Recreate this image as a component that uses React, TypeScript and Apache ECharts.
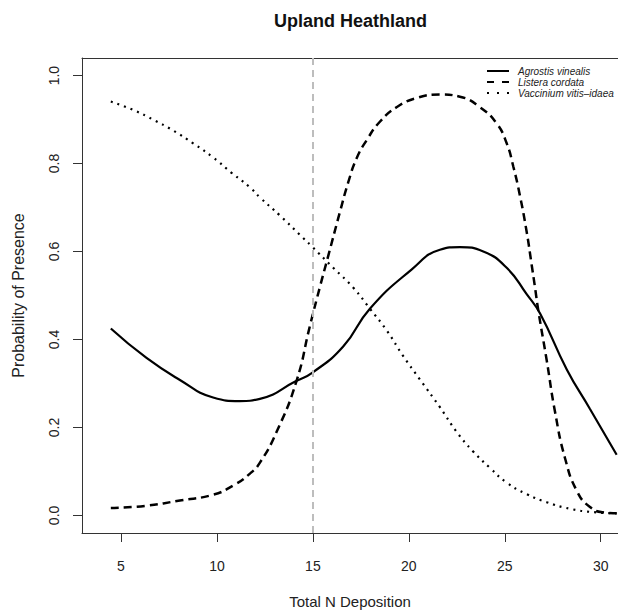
import React, { useEffect, useRef } from "react";
import * as echarts from "echarts";

const TITLE = "Upland Heathland";
const X_NAME = "Total N Deposition";
const Y_NAME = "Probability of Presence";
const X_TICKS = [5, 10, 15, 20, 25, 30];
const Y_TICKS = [0, 0.2, 0.4, 0.6, 0.8, 1.0];
const THRESHOLD = 15;

const SERIES_NAMES = ["Agrostis vinealis", "Listera cordata", "Vaccinium vitis\u2013idaea"];

const agrostisX = [4.47, 6.33, 8.07, 9.8, 11.19, 12.24, 14.15, 14.96, 16.58, 17.97, 20.14, 21.62, 22.66, 23.88, 25.1, 26.14, 26.84, 28.23, 29.44, 30.83];
const agrostisY = [0.425, 0.358, 0.308, 0.268, 0.26, 0.265, 0.306, 0.324, 0.384, 0.47, 0.559, 0.604, 0.61, 0.6, 0.563, 0.503, 0.459, 0.332, 0.242, 0.138];

const listeraX = [4.47, 6.33, 8.07, 9.8, 10.85, 11.72, 12.24, 13.11, 14.15, 14.84, 15.37, 15.8, 16.41, 16.84, 17.28, 17.8, 18.49, 19.36, 20.41, 21.62, 22.66, 23.71, 24.58, 25.1, 25.44, 25.79, 26.14, 26.4, 26.57, 26.75, 27.18, 27.62, 28.14, 28.75, 29.44, 30.14, 30.83];
const listeraY = [0.017, 0.022, 0.034, 0.047, 0.068, 0.095, 0.12, 0.19, 0.306, 0.43, 0.52, 0.59, 0.69, 0.757, 0.812, 0.853, 0.895, 0.928, 0.949, 0.957, 0.952, 0.928, 0.891, 0.846, 0.794, 0.727, 0.645, 0.57, 0.52, 0.465, 0.354, 0.235, 0.13, 0.056, 0.019, 0.007, 0.005];

const vacciniumX = [4.47, 5.63, 6.67, 7.72, 8.76, 9.8, 10.76, 11.72, 12.24, 13.28, 14.32, 14.96, 16.06, 17.1, 17.97, 18.84, 19.71, 20.58, 21.62, 22.49, 23.36, 24.23, 25.1, 26.14, 27.18, 28.4, 29.62, 30.83];
const vacciniumY = [0.941, 0.922, 0.9, 0.875, 0.846, 0.814, 0.779, 0.746, 0.723, 0.682, 0.638, 0.611, 0.563, 0.518, 0.47, 0.421, 0.362, 0.309, 0.246, 0.19, 0.145, 0.108, 0.0745, 0.0485, 0.03, 0.015, 0.0074, 0.0045];

const FONT = "Liberation Sans, Arial, Helvetica, sans-serif";

const LINE_TYPES: any[] = ["solid", [8, 5], [2, 5]];
const LEGEND_DASH: any[] = [null, [7, 8], [2, 8]];
const LINE_WIDTHS = [2.2, 2.5, 2.2];

const zip = (xs: number[], ys: number[]) => xs.map((x, i) => [x, ys[i]]);

export default function App() {
  const ref = useRef<HTMLDivElement>(null);
  useEffect(() => {
    if (!ref.current) return;
    const chart = echarts.init(ref.current, undefined, { renderer: "svg" });
    const axisColor = "#333";
    const legendRows = [71, 82, 93];
    const legendGraphics: any[] = [];
    SERIES_NAMES.forEach((name, i) => {
      legendGraphics.push({
        type: "line",
        silent: true,
        shape: { x1: 487, y1: legendRows[i], x2: 509, y2: legendRows[i] },
        style: {
          stroke: "#000",
          lineWidth: 2,
          lineDash: LEGEND_DASH[i] || undefined,
        },
      });
      legendGraphics.push({
        type: "text",
        silent: true,
        x: 518,
        y: legendRows[i],
        style: {
          text: name,
          fontFamily: FONT,
          fontSize: 10,
          fontStyle: "italic",
          fill: "#222",
          verticalAlign: "middle",
          align: "left",
        },
      });
    });

    const makeSeries = (i: number, xs: number[], ys: number[], extra: any = {}) => ({
      name: SERIES_NAMES[i],
      type: "line",
      data: zip(xs, ys),
      symbol: "none",
      smooth: 0.5,
      lineStyle: { color: "#000", width: LINE_WIDTHS[i], type: LINE_TYPES[i] },
      itemStyle: { color: "#000" },
      ...extra,
    });

    chart.setOption({
      animation: false,
      backgroundColor: "#fff",
      textStyle: { fontFamily: FONT },
      title: {
        text: TITLE,
        left: 274,
        top: 12,
        padding: 0,
        textStyle: { fontFamily: FONT, fontSize: 18, fontWeight: "bold", color: "#111" },
      },
      legend: { show: false, data: SERIES_NAMES },
      graphic: legendGraphics,
      grid: { left: 82, right: 0, top: 58, bottom: 73, containLabel: false },
      xAxis: [
        {
          type: "value",
          min: 2.968,
          max: 30.9,
          name: X_NAME,
          nameLocation: "middle",
          nameGap: 61,
          nameTextStyle: { fontFamily: FONT, fontSize: 15, color: "#222" },
          axisLine: { show: true, onZero: false, lineStyle: { color: axisColor, width: 1 } },
          axisTick: { show: true, length: 9, customValues: X_TICKS, lineStyle: { color: axisColor } },
          axisLabel: { customValues: X_TICKS, margin: 26, fontSize: 14, fontFamily: FONT, color: "#222" },
          splitLine: { show: false },
        },
        {
          type: "value",
          position: "top",
          min: 2.968,
          max: 30.9,
          axisLine: { show: true, onZero: false, lineStyle: { color: axisColor, width: 1 } },
          axisTick: { show: false },
          axisLabel: { show: false },
          splitLine: { show: false },
        },
      ],
      yAxis: {
        type: "value",
        min: -0.04,
        max: 1.04,
        name: Y_NAME,
        nameLocation: "middle",
        nameRotate: 90,
        nameGap: 56,
        nameTextStyle: { fontFamily: FONT, fontSize: 16, color: "#222" },
        axisLine: { show: true, onZero: false, lineStyle: { color: axisColor, width: 1 } },
        axisTick: { show: true, length: 9, customValues: Y_TICKS, lineStyle: { color: axisColor } },
        axisLabel: {
          customValues: Y_TICKS,
          rotate: 90,
          margin: 21,
          fontSize: 14,
          fontFamily: FONT,
          color: "#222",
          formatter: (v: number) => v.toFixed(1),
        },
        splitLine: { show: false },
      },
      series: [
        makeSeries(0, agrostisX, agrostisY, {
          markLine: {
            silent: true,
            symbol: "none",
            label: { show: false },
            lineStyle: { color: "#bdbdbd", width: 2, type: [7, 5] },
            data: [{ xAxis: THRESHOLD }],
          },
        }),
        makeSeries(1, listeraX, listeraY),
        makeSeries(2, vacciniumX, vacciniumY),
      ],
    });
    return () => chart.dispose();
  }, []);
  return (
    <div
      ref={ref}
      style={{ position: "fixed", left: 0, top: 0, width: 618, height: 614, background: "#fff" }}
    />
  );
}
